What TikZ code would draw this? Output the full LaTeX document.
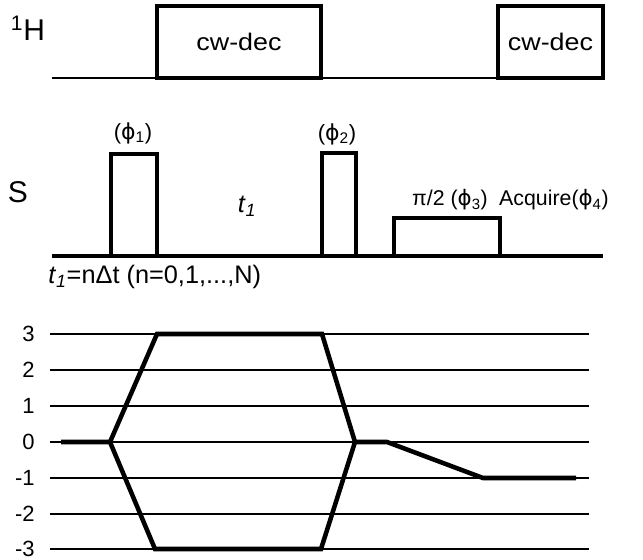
\documentclass[tikz,border=0pt]{standalone}
\usepackage{fontspec}
\setmainfont{Liberation Sans}
\newfontfamily\decfont{Liberation Sans}[FakeStretch=1.12]
\newfontfamily\dvs{DejaVu Sans}
\newcommand\ph{{\dvs ϕ}}
\begin{document}
\begin{tikzpicture}[x=0.75pt,y=-0.75pt,
  box/.style={draw, line width=2.4pt, inner sep=0pt, outer sep=0pt},
  lbl/.style={font=\fontsize{16.5}{18}\selectfont, inner sep=0pt},
  sml/.style={font=\fontsize{16}{18}\selectfont, inner sep=0pt},
  declbl/.style={font=\decfont\fontsize{18}{20}\selectfont},
  mid/.style={font=\fontsize{19}{21}\selectfont, inner sep=0pt},
  big/.style={font=\fontsize{22.5}{24}\selectfont, inner sep=0pt},
  thinline/.style={line width=1.1pt},
  thickline/.style={line width=2.4pt},
  gridline/.style={line width=1pt},
  traj/.style={line width=3.4pt, line join=miter, line cap=butt}]
\useasboundingbox (0,0) rectangle (643,560);
% ---- 1H channel
\node[big] (H) at (28,28) {\textsuperscript{1}H};
\node[box, declbl, minimum width=123pt, minimum height=54pt] (dec1) at (239,42) {cw-dec};
\node[box, declbl, minimum width=78.75pt, minimum height=54pt] (dec2) at (550.5,42) {cw-dec};
\coordinate (hstart) at (52,78);
\draw[thinline] (hstart) -- (dec1.south west);
\draw[thinline] (dec1.south east) -- (dec2.south west);
% ---- S channel
\node[big] (S) at (18,192) {S};
\coordinate (sstart) at (52,256);
\coordinate (send) at (603,256);
\draw[thickline] (sstart) -- (send);
\node[box, minimum width=34.5pt, minimum height=76.5pt] (p1) at (134,205) {};
\node[box, minimum width=25.5pt, minimum height=77.25pt] (p2) at (339,204.5) {};
\node[box, minimum width=79.5pt, minimum height=28.5pt] (p3) at (447,237) {};
\node[lbl] (ph1) at (133,133) {(\ph\textsubscript{1})};
\node[lbl] (ph2) at (337,134) {(\ph\textsubscript{2})};
\node[mid] (t1) at (247,206) {\textit{t}\textsubscript{\textit{1}}};
\node[sml] (ph3) at (450,200) {π/2 (\ph\textsubscript{3})};
\node[sml] (acq) at (554,200) {Acquire(\ph\textsubscript{4})};
\node[mid, anchor=west] (t1eq) at (48,277) {\textit{t}\textsubscript{\textit{1}}=nΔt (n=0,1,...,N)};
% ---- coherence levels
\foreach \v/\y in {3/334,2/370,1/406,0/442,-1/478,-2/514,-3/549}{
  \node[lbl, anchor=east] (n\v) at (35,\y) {\v};
  \coordinate (ga\v) at (50,\y);
  \coordinate (gb\v) at (589,\y);
  \draw[gridline] (ga\v) -- (gb\v);
}
\coordinate (c0) at (61,442);
\coordinate (c1) at (110,442);
\coordinate (c2) at (157,334);
\coordinate (c3) at (322,334);
\coordinate (c4) at (355,442);
\coordinate (c5) at (387,442);
\coordinate (c6) at (483,478);
\coordinate (c7) at (576,478);
\coordinate (d2) at (155,549);
\coordinate (d3) at (321,549);
\draw[traj] (c0) -- (c1) -- (c2) -- (c3) -- (c4) -- (c5) -- (c6) -- (c7);
\draw[traj] (c1) -- (d2) -- (d3) -- (c4);
\end{tikzpicture}
\end{document}
